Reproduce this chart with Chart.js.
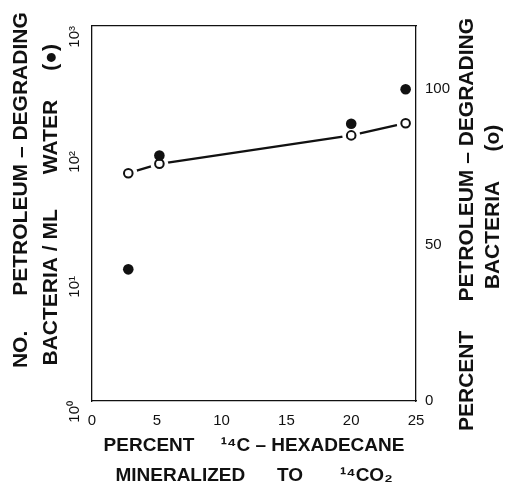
<!DOCTYPE html>
<html><head><meta charset="utf-8">
<script src="https://cdn.jsdelivr.net/npm/chart.js@4/dist/chart.umd.min.js"></script>
<style>html,body{margin:0;padding:0;background:#fff;} #wrap{width:509px;height:491px;}</style>
</head><body><div id="wrap"><canvas id="c"></canvas></div>
<script>
const mineralized = [2.8, 5.2, 20.0, 24.2];
const bacteriaPerMl = [11.3, 92, 165, 312];
const percentDegrading = [72.9, 75.9, 85.0, 88.9];
const xTicks = [0, 5, 10, 15, 20, 25];
const leftTicks = [1, 10, 100, 1000];
const leftTickLabels = ['10⁰', '10¹', '10²', '10³'];
const rightTicks = [0, 50, 100];
const xTitle = ['PERCENT     ¹⁴C – HEXADECANE', 'MINERALIZED      TO       ¹⁴CO₂'];
const leftTitle = ['        NO.      PETROLEUM – DEGRADING', '   BACTERIA / ML      WATER     (●)'];
const rightTitle = ['PERCENT     PETROLEUM – DEGRADING', 'BACTERIA     (o)'];

const INK = '#111';
const X_TITLE_FONT = {family: 'Liberation Sans', size: 19, weight: 'bold', lineHeight: 1.55};
const V_TITLE_FONT = {family: 'Liberation Sans', size: 21, weight: 'bold', lineHeight: 1.43};
const TICK_FONT = {family: 'Liberation Sans', size: 15};

const pts = (xs, ys) => xs.map((x, i) => ({x, y: ys[i]}));

const rightTitlePlugin = {
  id: 'rightTitle',
  afterDraw(chart) {
    const {ctx, chartArea} = chart;
    const offs = [198.5, 181];
    ctx.save();
    ctx.font = 'bold 21px "Liberation Sans"';
    ctx.fillStyle = INK;
    ctx.textAlign = 'center';
    ctx.textBaseline = 'middle';
    rightTitle.forEach((t, i) => {
      ctx.save();
      ctx.translate(chartArea.right + 51 + i * 26, chartArea.top + offs[i]);
      ctx.rotate(-Math.PI / 2);
      ctx.fillText(t, 0, 0);
      ctx.restore();
    });
    ctx.restore();
  }
};

new Chart(document.getElementById('c'), {
  type: 'scatter',
  data: {
    datasets: [
      {data: pts(mineralized, percentDegrading), yAxisID: 'yR', showLine: true, borderColor: INK, borderWidth: 2.4, pointRadius: 0, order: 4},
      {data: pts(mineralized, percentDegrading), yAxisID: 'yR', showLine: false, pointRadius: 9, pointBackgroundColor: '#fff', pointBorderWidth: 0, pointBorderColor: '#fff', order: 3},
      {data: pts(mineralized, percentDegrading), yAxisID: 'yR', showLine: false, pointRadius: 4.3, pointBackgroundColor: '#fff', pointBorderColor: INK, pointBorderWidth: 2, order: 2},
      {data: pts(mineralized, bacteriaPerMl), yAxisID: 'y', showLine: false, pointRadius: 5.3, pointBackgroundColor: INK, pointBorderColor: INK, pointBorderWidth: 0, order: 1}
    ]
  },
  options: {
    responsive: true,
    maintainAspectRatio: false,
    animation: false,
    events: [],
    layout: {padding: 0},
    plugins: {legend: {display: false}, tooltip: {enabled: false}},
    scales: {
      x: {
        type: 'linear', position: 'bottom', min: 0, max: 25,
        afterBuildTicks: s => { s.ticks = xTicks.map(v => ({value: v})); },
        afterFit: s => { s.height = 90; },
        grid: {display: false, drawTicks: false},
        border: {display: true, color: INK, width: 1.3},
        ticks: {font: TICK_FONT, color: INK, padding: 11, maxRotation: 0},
        title: {display: true, text: xTitle, font: X_TITLE_FONT, color: INK, padding: {top: 0, bottom: 1}}
      },
      xTop: {
        axis: 'x', type: 'linear', position: 'top', min: 0, max: 25,
        afterFit: s => { s.height = 23; },
        grid: {display: false, drawTicks: false},
        border: {display: true, color: INK, width: 1.3},
        ticks: {display: false}
      },
      y: {
        type: 'logarithmic', position: 'left', min: 1, max: 1000,
        afterBuildTicks: s => { s.ticks = leftTicks.map(v => ({value: v})); },
        afterFit: s => { s.width = 92; },
        grid: {display: false, drawTicks: false},
        border: {display: true, color: INK, width: 1.3},
        ticks: {font: TICK_FONT, color: INK, padding: 17, minRotation: 90, maxRotation: 90,
          callback: v => { const i = leftTicks.indexOf(v); return i >= 0 ? leftTickLabels[i] : ''; }},
        title: {display: true, text: leftTitle, font: V_TITLE_FONT, color: INK, padding: {top: 6, bottom: 0}}
      },
      yR: {
        type: 'linear', position: 'right', min: 0, max: 120,
        afterBuildTicks: s => { s.ticks = rightTicks.map(v => ({value: v})); },
        afterFit: s => { s.width = 93; },
        grid: {display: false, drawTicks: false},
        border: {display: true, color: INK, width: 1.3},
        ticks: {font: TICK_FONT, color: INK, padding: 9}
      }
    }
  },
  plugins: [rightTitlePlugin]
});
</script>
</body></html>
